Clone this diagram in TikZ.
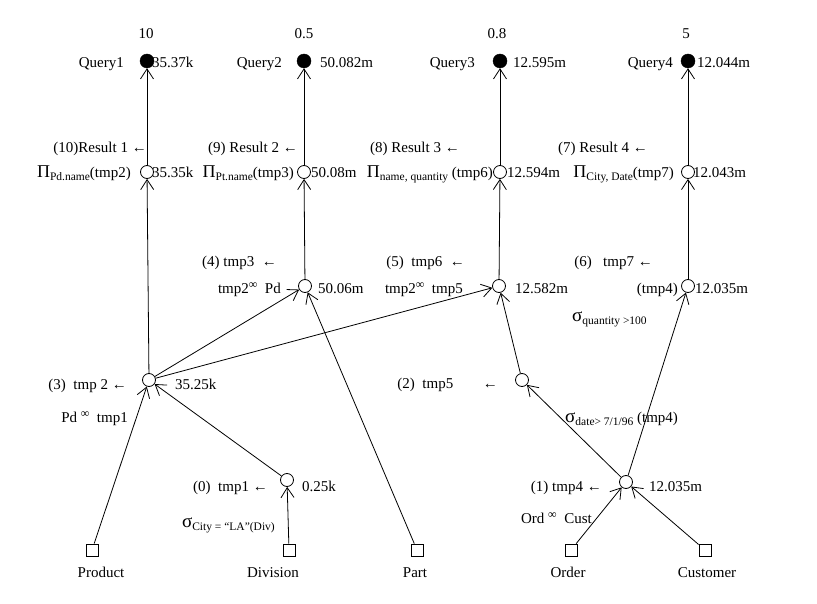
\documentclass[tikz,border=0pt]{standalone}
\usepackage{fontspec}
\setmainfont{Liberation Serif}
\usetikzlibrary{arrows.meta}
\newcommand{\lowtxt}[1]{\raisebox{-3pt}{\fontsize{11.5}{11.5}\selectfont #1}}
\newcommand{\joinsym}{\raisebox{5pt}{\fontsize{12}{12}\selectfont ∞}}
\newcommand{\bigpi}{{\fontsize{18}{18}\selectfont Π}}
\newcommand{\bigsig}{{\fontsize{19}{19}\selectfont σ}}
\tikzset{
  opnode/.style={circle, draw, line width=0.8pt, minimum size=13pt, inner sep=0pt},
  qnode/.style={circle, draw, fill=black, minimum size=14pt, inner sep=0pt},
  relnode/.style={rectangle, draw, line width=0.8pt, minimum size=12pt, inner sep=0pt},
  lbl/.style={inner sep=0pt, text height=11pt, text depth=3pt, font=\fontsize{15}{18}\selectfont},
  edge/.style={-{Straight Barb[length=10pt,width=13pt]}, line width=0.8pt}
}
\begin{document}
\begin{tikzpicture}[x=1pt,y=-1pt]
\useasboundingbox[fill=white] (0,0) rectangle (817,604);
% query nodes
\node[qnode] (q1) at (147,61) {};
\node[qnode] (q2) at (304,61) {};
\node[qnode] (q3) at (500,61) {};
\node[qnode] (q4) at (688,61) {};
% result nodes
\node[opnode] (r1) at (147,172) {};
\node[opnode] (r2) at (304,172) {};
\node[opnode] (r3) at (500,172) {};
\node[opnode] (r4) at (688,172) {};
% intermediate nodes
\node[opnode] (n3) at (149,380) {};
\node[opnode] (n4) at (305,286) {};
\node[opnode] (n5) at (499,286) {};
\node[opnode] (n6) at (688,286) {};
\node[opnode] (n2) at (522,380) {};
\node[opnode] (n0) at (287,480) {};
\node[opnode] (n1) at (626,482) {};
% relations
\node[relnode] (prod) at (92,550) {};
\node[relnode] (div) at (289,550) {};
\node[relnode] (part) at (417,550) {};
\node[relnode] (ord) at (571,550) {};
\node[relnode] (cust) at (705,550) {};
% edges
\draw[edge] (r1) -- (q1);
\draw[edge] (r2) -- (q2);
\draw[edge] (r3) -- (q3);
\draw[edge] (r4) -- (q4);
\draw[edge] (n3) -- (r1);
\draw[edge] (n4) -- (r2);
\draw[edge] (n5) -- (r3);
\draw[edge] (n6) -- (r4);
\draw[edge] (n3) -- (n4);
\draw[edge] (n3) -- (n5);
\draw[edge] (part) -- (n4);
\draw[edge] (n2) -- (n5);
\draw[edge] (n1) -- (n2);
\draw[edge] (n1) -- (n6);
\draw[edge] (ord) -- (n1);
\draw[edge] (cust) -- (n1);
\draw[edge] (prod) -- (n3);
\draw[edge] (n0) -- (n3);
\draw[edge] (div) -- (n0);
% top labels
\node[lbl] (w1) at (146,35) {10};
\node[lbl] (w2) at (304,35) {0.5};
\node[lbl] (w3) at (497,35) {0.8};
\node[lbl] (w4) at (686,35) {5};
\node[lbl, anchor=east] (ql1) at (124,64) {Query1};
\node[lbl, anchor=east] (ql2) at (282,64) {Query2};
\node[lbl, anchor=east] (ql3) at (475,64) {Query3};
\node[lbl, anchor=east] (ql4) at (673,64) {Query4};
\node[lbl, anchor=west] (qc1) at (152,64) {35.37k};
\node[lbl, anchor=west] (qc2) at (320,64) {50.082m};
\node[lbl, anchor=west] (qc3) at (513,64) {12.595m};
\node[lbl, anchor=west] (qc4) at (697,64) {12.044m};
% result labels
\node[lbl, anchor=east] (rl1) at (147,149) {(10)Result 1 ←};
\node[lbl, anchor=east] (rl2) at (298,149) {(9) Result 2 ←};
\node[lbl, anchor=east] (rl3) at (460,149) {(8) Result 3 ←};
\node[lbl, anchor=east] (rl4) at (648,149) {(7) Result 4 ←};
\node[lbl, anchor=east] (pl1) at (131,174) {\bigpi\lowtxt{Pd.name}(tmp2)};
\node[lbl, anchor=west] (pc1) at (152,174) {35.35k};
\node[lbl, anchor=east] (pl2) at (294,174) {\bigpi\lowtxt{Pt.name}(tmp3)};
\node[lbl, anchor=west] (pc2) at (311,174) {50.08m};
\node[lbl, anchor=east] (pl3) at (493,174) {\bigpi\lowtxt{name, quantity} (tmp6)};
\node[lbl, anchor=west] (pc3) at (507,174) {12.594m};
\node[lbl, anchor=east] (pl4) at (674,174) {\bigpi\lowtxt{City, Date}(tmp7)};
\node[lbl, anchor=west] (pc4) at (693,174) {12.043m};
% join labels
\node[lbl, anchor=east] (l4) at (277,262) {(4) tmp3 \ ←};
\node[lbl, anchor=east] (l5) at (465,262) {(5) \ tmp6 \ ←};
\node[lbl, anchor=east] (l6) at (653,262) {(6) \ \ tmp7 ←};
\node[lbl, anchor=east] (j4) at (281,290) {tmp2\joinsym\ \ Pd};
\node[lbl, anchor=west] (c4) at (318,290) {50.06m};
\node[lbl, anchor=east] (j5) at (463,290) {tmp2\joinsym\ \ tmp5};
\node[lbl, anchor=west] (c5) at (515,290) {12.582m};
\node[lbl, anchor=east] (j6) at (678,290) {(tmp4)};
\node[lbl, anchor=west] (c6) at (695,290) {12.035m};
\node[lbl, anchor=west] (s6) at (572,317) {\bigsig\lowtxt{quantity >100}};
\node[lbl, anchor=east] (l3) at (127,385) {(3) \ tmp 2 ←};
\node[lbl, anchor=west] (c3) at (175,385) {35.25k};
\node[lbl, anchor=east] (l2) at (498,384) {(2) \ tmp5 \hspace{22pt} ←};
\node[lbl, anchor=east] (j3) at (128,418) {Pd \joinsym\ \ tmp1};
\node[lbl, anchor=west] (s2) at (565,418) {\bigsig\lowtxt{date> 7/1/96} (tmp4)};
\node[lbl, anchor=east] (l0) at (268,487) {(0) \ tmp1 ←};
\node[lbl, anchor=west] (c0) at (302,487) {0.25k};
\node[lbl, anchor=east] (l1) at (602,487) {(1) tmp4 ←};
\node[lbl, anchor=west] (c1) at (649,487) {12.035m};
\node[lbl, anchor=east] (s0) at (275,523) {\bigsig\lowtxt{City = “LA”(Div)}};
\node[lbl, anchor=east] (j1) at (592,519) {Ord \joinsym\ \ Cust};
% relation names
\node[lbl] (tprod) at (101,573) {Product};
\node[lbl] (tdiv) at (273,573) {Division};
\node[lbl] (tpart) at (415,573) {Part};
\node[lbl] (tord) at (568,573) {Order};
\node[lbl] (tcust) at (707,573) {Customer};
\end{tikzpicture}
\end{document}
